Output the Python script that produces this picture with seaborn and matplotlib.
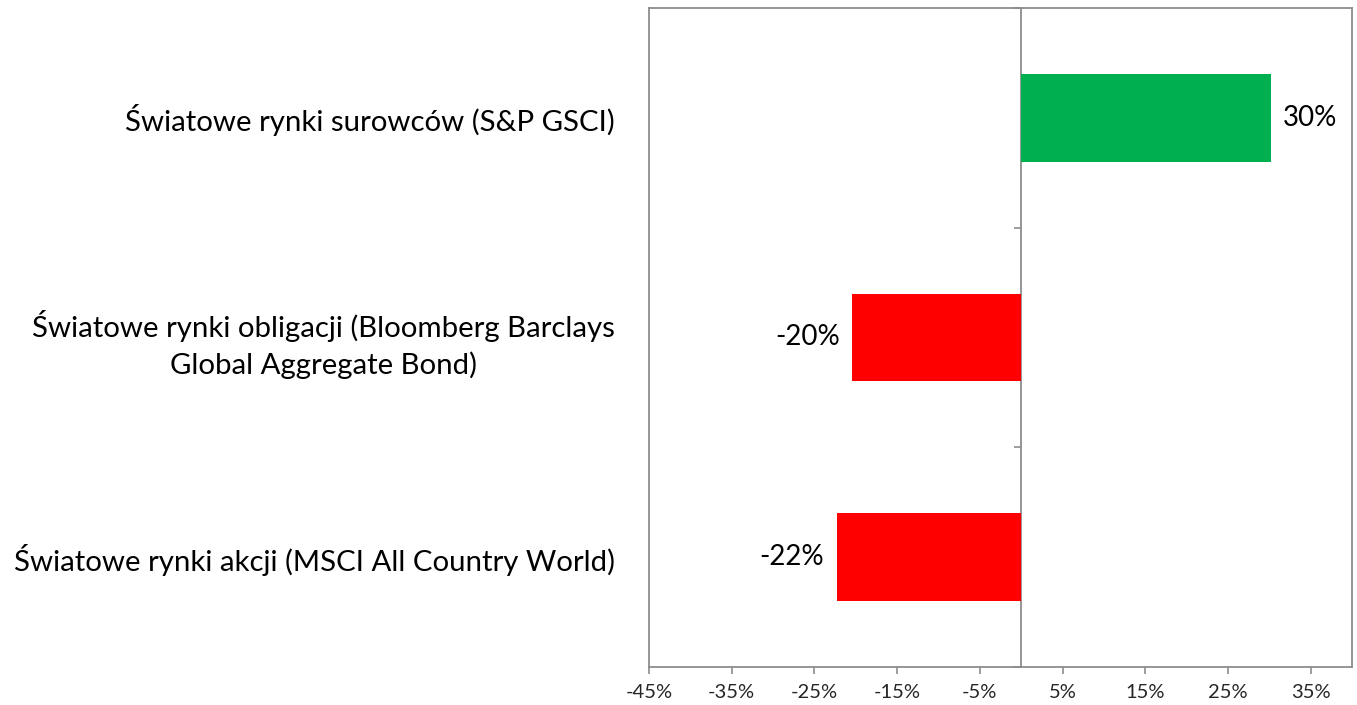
import matplotlib
matplotlib.use("Agg")
import matplotlib.pyplot as plt
import seaborn as sns
import pandas as pd

categories = [
    "Światowe rynki surowców (S&P GSCI)",
    "Światowe rynki obligacji (Bloomberg Barclays\nGlobal Aggregate Bond)",
    "Światowe rynki akcji (MSCI All Country World)",
]
values = [30.2, -20.4, -22.3]
labels = ["30%", "-20%", "-22%"]
colors = ["#00B050", "#FF0000", "#FF0000"]
xticks = [-45, -35, -25, -15, -5, 5, 15, 25, 35]

sns.set_theme(style="white")
plt.rcParams["font.family"] = ["Lato", "DejaVu Sans"]

df = pd.DataFrame({"cat": categories, "val": values})

fig = plt.figure(figsize=(13.57, 7.05), dpi=100)
ax = fig.add_axes([0.4783, 0.0539, 0.9963 - 0.4783, 0.9887 - 0.0539])

sns.barplot(data=df, y="cat", x="val", hue="cat", palette=colors,
            orient="h", width=0.4, saturation=1, legend=False,
            linewidth=0, ax=ax)

ax.set_xlim(-45, 40)
ax.set_ylim(2.5, -0.5)
ax.set_xticks(xticks)
ax.set_xticklabels([f"{t}%" for t in xticks], fontsize=14.5)
ax.set_xlabel("")
ax.set_ylabel("")
ax.tick_params(axis="x", direction="out", length=5, width=1.2,
               color="#8c8c8c", bottom=True, pad=7)
ax.tick_params(axis="y", length=0, pad=24.5, labelsize=21.2)
for lbl in ax.get_yticklabels():
    lbl.set_multialignment("center")
    lbl.set_linespacing(1.4)
    lbl.set_color("black")

for s in ax.spines.values():
    s.set_color("#8c8c8c")
    s.set_linewidth(1.3)

sec = ax.secondary_yaxis(45 / 85)
sec.set_yticks([-0.5, 0.5, 1.5, 2.5])
sec.set_yticklabels([])
sec.tick_params(direction="in", length=5, width=1.2, color="#8c8c8c")
for s in sec.spines.values():
    s.set_color("#8c8c8c")
    s.set_linewidth(1.3)

for i, (v, t) in enumerate(zip(values, labels)):
    ha = "left" if v >= 0 else "right"
    off = 1.5 if v >= 0 else -1.5
    ax.text(v + off, i, t, ha=ha, va="center", fontsize=20, color="black")

fig.savefig("out.png", dpi=100, facecolor="white")
